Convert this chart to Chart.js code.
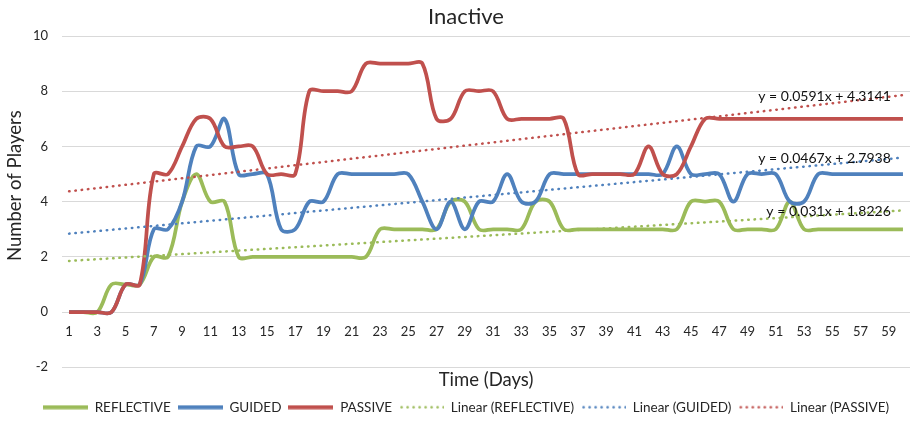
<!DOCTYPE html>
<html>
<head>
<meta charset="utf-8">
<title>Inactive</title>
<script src="https://cdn.jsdelivr.net/npm/chart.js@4/dist/chart.umd.min.js"></script>
<style>
  html, body { margin: 0; padding: 0; background: #ffffff; }
  #wrap { width: 915px; height: 424px; }
</style>
</head>
<body>
<div id="wrap"><canvas id="c"></canvas></div>
<script>
// Day index on the category axis
const days = [
  1, 2, 3, 4, 5, 6, 7, 8, 9, 10, 11, 12, 13, 14, 15, 16, 17, 18, 19, 20,
  21, 22, 23, 24, 25, 26, 27, 28, 29, 30, 31, 32, 33, 34, 35, 36, 37, 38, 39, 40,
  41, 42, 43, 44, 45, 46, 47, 48, 49, 50, 51, 52, 53, 54, 55, 56, 57, 58, 59, 60
];

// Inactive players per day, by group
const reflective = [
  0, 0, 0, 1, 1, 1, 2, 2, 4, 5, 4, 4, 2, 2, 2, 2, 2, 2, 2, 2,
  2, 2, 3, 3, 3, 3, 3, 4, 4, 3, 3, 3, 3, 4, 4, 3, 3, 3, 3, 3,
  3, 3, 3, 3, 4, 4, 4, 3, 3, 3, 3, 4, 3, 3, 3, 3, 3, 3, 3, 3
];
const guided = [
  0, 0, 0, 0, 1, 1, 3, 3, 4, 6, 6, 7, 5, 5, 5, 3, 3, 4, 4, 5,
  5, 5, 5, 5, 5, 4, 3, 4, 3, 4, 4, 5, 4, 4, 5, 5, 5, 5, 5, 5,
  5, 5, 5, 6, 5, 5, 5, 4, 5, 5, 5, 4, 4, 5, 5, 5, 5, 5, 5, 5
];
const passive = [
  0, 0, 0, 0, 1, 1, 5, 5, 6, 7, 7, 6, 6, 6, 5, 5, 5, 8, 8, 8,
  8, 9, 9, 9, 9, 9, 7, 7, 8, 8, 8, 7, 7, 7, 7, 7, 5, 5, 5, 5,
  5, 6, 5, 5, 6, 7, 7, 7, 7, 7, 7, 7, 7, 7, 7, 7, 7, 7, 7, 7
];

// Linear trend coefficients (REFLECTIVE, GUIDED, PASSIVE)
const trendSlopes = [0.031, 0.0467, 0.0591];
const trendIntercepts = [1.8226, 2.7938, 4.3141];

// Value axis range and step
const yMin = -2;
const yMax = 10;
const yStep = 2;

const GREEN = '#9BBB59';
const BLUE = '#4F81BD';
const RED = '#C0504D';
const TEXT = '#262626';
const FONT = 'Lato, "Open Sans", sans-serif';
const Y_TITLE = 'Number of Players';

function trendSeries(i) {
  return days.map(d => trendSlopes[i] * d + trendIntercepts[i]);
}
function equationText(i) {
  return 'y = ' + trendSlopes[i] + 'x + ' + trendIntercepts[i];
}

function seriesSet(label, data, color, order) {
  return {
    label, data, order,
    borderColor: color, backgroundColor: color,
    borderWidth: 3.75, tension: 0.35,
    pointRadius: 0, pointHoverRadius: 0, fill: false
  };
}
function trendSet(label, i, color) {
  return {
    label, data: trendSeries(i), order: 0,
    borderColor: color, backgroundColor: color,
    borderWidth: 2.5, borderDash: [0.5, 5.8], borderCapStyle: 'round',
    tension: 0, pointRadius: 0, pointHoverRadius: 0, fill: false
  };
}

// Small legend glyphs: a thick solid stroke or a row of dots
function legendGlyph(color, dotted) {
  const c = document.createElement('canvas');
  c.width = 45; c.height = 5;
  const g = c.getContext('2d');
  g.fillStyle = color;
  if (dotted) {
    for (let x = 2; x < 45; x += 6) {
      g.beginPath(); g.arc(x + 0.5, 2.5, 1.3, 0, Math.PI * 2); g.fill();
    }
  } else {
    g.fillRect(0, 0.5, 45, 4);
  }
  return c;
}
const legendGlyphs = [
  legendGlyph(GREEN, false), legendGlyph(BLUE, false), legendGlyph(RED, false),
  legendGlyph(GREEN, true), legendGlyph(BLUE, true), legendGlyph(RED, true)
];

// Equation text at the right end of each trend line, plus the rotated value-axis title
const annotations = {
  id: 'annotations',
  afterDatasetsDraw(chart) {
    const { ctx, scales } = chart;
    const idx = days.length - 2;
    ctx.save();
    ctx.font = '14px ' + FONT;
    ctx.fillStyle = '#111111';
    ctx.textAlign = 'right';
    ctx.textBaseline = 'middle';
    for (let i = 0; i < trendSlopes.length; i++) {
      const x = scales.x.getPixelForValue(idx) + 2;
      const y = scales.y.getPixelForValue(trendSlopes[i] * days[idx] + trendIntercepts[i]);
      ctx.fillText(equationText(i), x, y);
    }
    ctx.restore();
  },
  afterDraw(chart) {
    const { ctx, chartArea } = chart;
    ctx.save();
    ctx.translate(15, (chartArea.top + chartArea.bottom) / 2 - 16);
    ctx.rotate(-Math.PI / 2);
    ctx.font = '18.5px ' + FONT;
    ctx.fillStyle = TEXT;
    ctx.textAlign = 'center';
    ctx.textBaseline = 'middle';
    ctx.fillText(Y_TITLE, 0, 0);
    ctx.restore();
  }
};

new Chart(document.getElementById('c'), {
  type: 'line',
  data: {
    labels: days,
    datasets: [
      seriesSet('REFLECTIVE', reflective, GREEN, 3),
      seriesSet('GUIDED', guided, BLUE, 2),
      seriesSet('PASSIVE', passive, RED, 1),
      trendSet('Linear (REFLECTIVE)', 0, GREEN),
      trendSet('Linear (GUIDED)', 1, BLUE),
      trendSet('Linear (PASSIVE)', 2, RED)
    ]
  },
  options: {
    responsive: true,
    maintainAspectRatio: false,
    animation: false,
    events: [],
    layout: { padding: { left: 18, right: 1, top: 0, bottom: 0 } },
    scales: {
      x: {
        type: 'category',
        offset: true,
        position: { y: 0 },
        grid: { display: false, drawTicks: false },
        border: { display: false },
        ticks: {
          autoSkip: false, maxRotation: 0, minRotation: 0, padding: 12,
          color: TEXT, font: { family: FONT, size: 13 },
          callback(value, index) { return days[index] % 2 === 1 ? String(days[index]) : ''; }
        }
      },
      x2: {
        type: 'category',
        position: 'bottom',
        offset: true,
        grid: { display: false, drawTicks: false },
        border: { display: false },
        ticks: { display: false },
        title: {
          display: true, text: 'Time (Days)', color: TEXT,
          font: { family: FONT, size: 18.5 }, padding: { top: 2, bottom: 2 }
        }
      },
      y: {
        min: yMin, max: yMax,
        afterFit(scale) { scale.width = 44; },
        ticks: { stepSize: yStep, padding: 14, color: TEXT, font: { family: FONT, size: 13 } },
        grid: { color: '#d9d9d9', lineWidth: 1, drawTicks: false },
        border: { display: false },
        title: { display: false }
      }
    },
    plugins: {
      title: {
        display: true, text: 'Inactive', color: TEXT,
        font: { family: FONT, size: 22, weight: 'normal' },
        padding: { top: 4, bottom: 5.6 }
      },
      legend: {
        display: true,
        position: 'bottom',
        labels: {
          usePointStyle: true, pointStyleWidth: 45,
          padding: 7, color: TEXT, font: { family: FONT, size: 13.5 },
          sort: (a, b) => a.datasetIndex - b.datasetIndex,
          generateLabels(chart) {
            const items = Chart.defaults.plugins.legend.labels.generateLabels(chart);
            items.forEach(it => { it.pointStyle = legendGlyphs[it.datasetIndex]; });
            return items;
          }
        }
      },
      tooltip: { enabled: false }
    }
  },
  plugins: [annotations]
});
</script>
</body>
</html>
